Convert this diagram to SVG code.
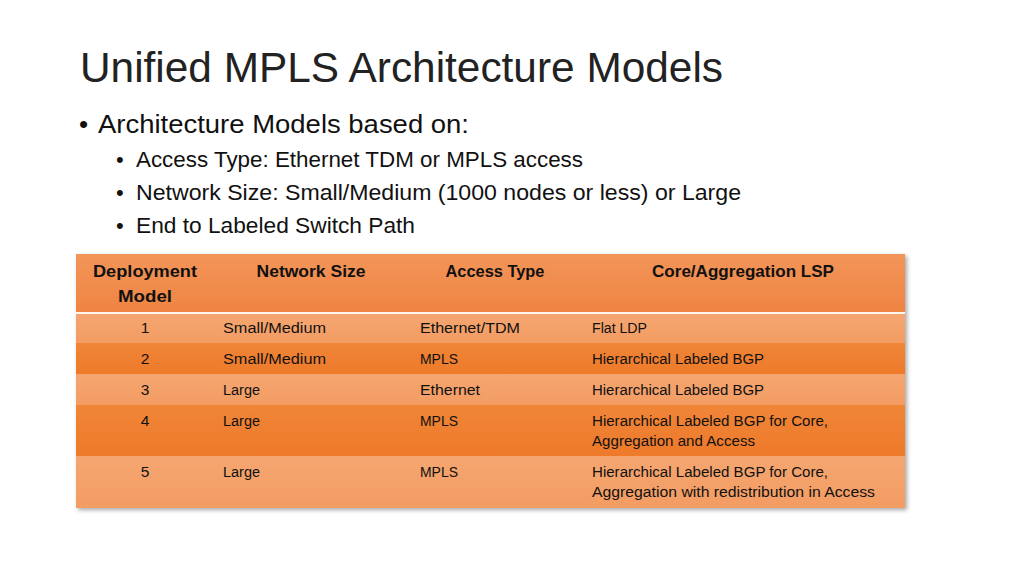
<svg xmlns="http://www.w3.org/2000/svg" width="1024" height="576" viewBox="0 0 1024 576">
<defs>
<style>
text{font-family:"Liberation Sans",Arial,sans-serif;fill:#111}
.title{font-size:43px;fill:#222}
.b1{font-size:26px}
.b2{font-size:22px}
.th{font-size:17px;font-weight:bold;text-anchor:middle}
.td{font-size:15.5px}
.num{text-anchor:middle}
</style>
<linearGradient id="gHead" x1="0" y1="0" x2="0" y2="1">
<stop offset="0" stop-color="#F29558"/><stop offset="1" stop-color="#EF8443"/>
</linearGradient>
<linearGradient id="gLight" x1="0" y1="0" x2="0" y2="1">
<stop offset="0" stop-color="#F5A670"/><stop offset="1" stop-color="#F39C63"/>
</linearGradient>
<linearGradient id="gDark" x1="0" y1="0" x2="0" y2="1">
<stop offset="0" stop-color="#F08538"/><stop offset="1" stop-color="#EE7A2A"/>
</linearGradient>
<filter id="shadow" x="-5%" y="-5%" width="110%" height="115%">
<feDropShadow dx="2" dy="2" stdDeviation="2" flood-color="#000" flood-opacity="0.35"/>
</filter>
</defs>
<rect width="1024" height="576" fill="#fff"/>
<g id="title">
<text class="title" x="80" y="82" textLength="643" lengthAdjust="spacingAndGlyphs">Unified MPLS Architecture Models</text>
</g>
<g id="bullets">
<text class="b1" x="79" y="133">•</text>
<text class="b1" x="98" y="133" textLength="371" lengthAdjust="spacingAndGlyphs">Architecture Models based on:</text>
<text class="b2" x="116" y="167">•</text>
<text class="b2" x="136" y="167" textLength="447" lengthAdjust="spacingAndGlyphs">Access Type: Ethernet TDM or MPLS access</text>
<text class="b2" x="116" y="200">•</text>
<text class="b2" x="136" y="200" textLength="605" lengthAdjust="spacingAndGlyphs">Network Size: Small/Medium (1000 nodes or less) or Large</text>
<text class="b2" x="116" y="233">•</text>
<text class="b2" x="136" y="233" textLength="279" lengthAdjust="spacingAndGlyphs">End to Labeled Switch Path</text>
</g>
<g id="table">
<g filter="url(#shadow)">
<rect x="76" y="254" width="829" height="254" fill="#F39C63"/>
</g>
<rect x="76" y="254" width="829" height="58" fill="url(#gHead)"/>
<rect x="76" y="312" width="829" height="2" fill="#FFF5EE"/>
<rect x="76" y="314" width="829" height="29" fill="url(#gLight)"/>
<rect x="76" y="343" width="829" height="31" fill="url(#gDark)"/>
<rect x="76" y="374" width="829" height="31" fill="url(#gLight)"/>
<rect x="76" y="405" width="829" height="51" fill="url(#gDark)"/>
<rect x="76" y="456" width="829" height="52" fill="url(#gLight)"/>
<g id="header">
<text class="th" x="145" y="277" textLength="104" lengthAdjust="spacingAndGlyphs">Deployment</text>
<text class="th" x="145" y="302" textLength="54" lengthAdjust="spacingAndGlyphs">Model</text>
<text class="th" x="311" y="277" textLength="109" lengthAdjust="spacingAndGlyphs">Network Size</text>
<text class="th" x="495" y="277" textLength="99" lengthAdjust="spacingAndGlyphs">Access Type</text>
<text class="th" x="743" y="277" textLength="182" lengthAdjust="spacingAndGlyphs">Core/Aggregation LSP</text>
</g>
<g id="row1">
<text class="td num" x="145" y="333">1</text>
<text class="td" x="223" y="333" textLength="103" lengthAdjust="spacingAndGlyphs">Small/Medium</text>
<text class="td" x="420" y="333" textLength="100" lengthAdjust="spacingAndGlyphs">Ethernet/TDM</text>
<text class="td" x="592" y="333" textLength="55" lengthAdjust="spacingAndGlyphs">Flat LDP</text>
</g>
<g id="row2">
<text class="td num" x="145" y="364">2</text>
<text class="td" x="223" y="364" textLength="103" lengthAdjust="spacingAndGlyphs">Small/Medium</text>
<text class="td" x="420" y="364" textLength="38" lengthAdjust="spacingAndGlyphs">MPLS</text>
<text class="td" x="592" y="364" textLength="172" lengthAdjust="spacingAndGlyphs">Hierarchical Labeled BGP</text>
</g>
<g id="row3">
<text class="td num" x="145" y="395">3</text>
<text class="td" x="223" y="395" textLength="37" lengthAdjust="spacingAndGlyphs">Large</text>
<text class="td" x="420" y="395" textLength="60" lengthAdjust="spacingAndGlyphs">Ethernet</text>
<text class="td" x="592" y="395" textLength="172" lengthAdjust="spacingAndGlyphs">Hierarchical Labeled BGP</text>
</g>
<g id="row4">
<text class="td num" x="145" y="426">4</text>
<text class="td" x="223" y="426" textLength="37" lengthAdjust="spacingAndGlyphs">Large</text>
<text class="td" x="420" y="426" textLength="38" lengthAdjust="spacingAndGlyphs">MPLS</text>
<text class="td" x="592" y="426" textLength="236" lengthAdjust="spacingAndGlyphs">Hierarchical Labeled BGP for Core,</text>
<text class="td" x="592" y="446" textLength="163" lengthAdjust="spacingAndGlyphs">Aggregation and Access</text>
</g>
<g id="row5">
<text class="td num" x="145" y="477">5</text>
<text class="td" x="223" y="477" textLength="37" lengthAdjust="spacingAndGlyphs">Large</text>
<text class="td" x="420" y="477" textLength="38" lengthAdjust="spacingAndGlyphs">MPLS</text>
<text class="td" x="592" y="477" textLength="236" lengthAdjust="spacingAndGlyphs">Hierarchical Labeled BGP for Core,</text>
<text class="td" x="592" y="497" textLength="283" lengthAdjust="spacingAndGlyphs">Aggregation with redistribution in Access</text>
</g>
</g>
</svg>
